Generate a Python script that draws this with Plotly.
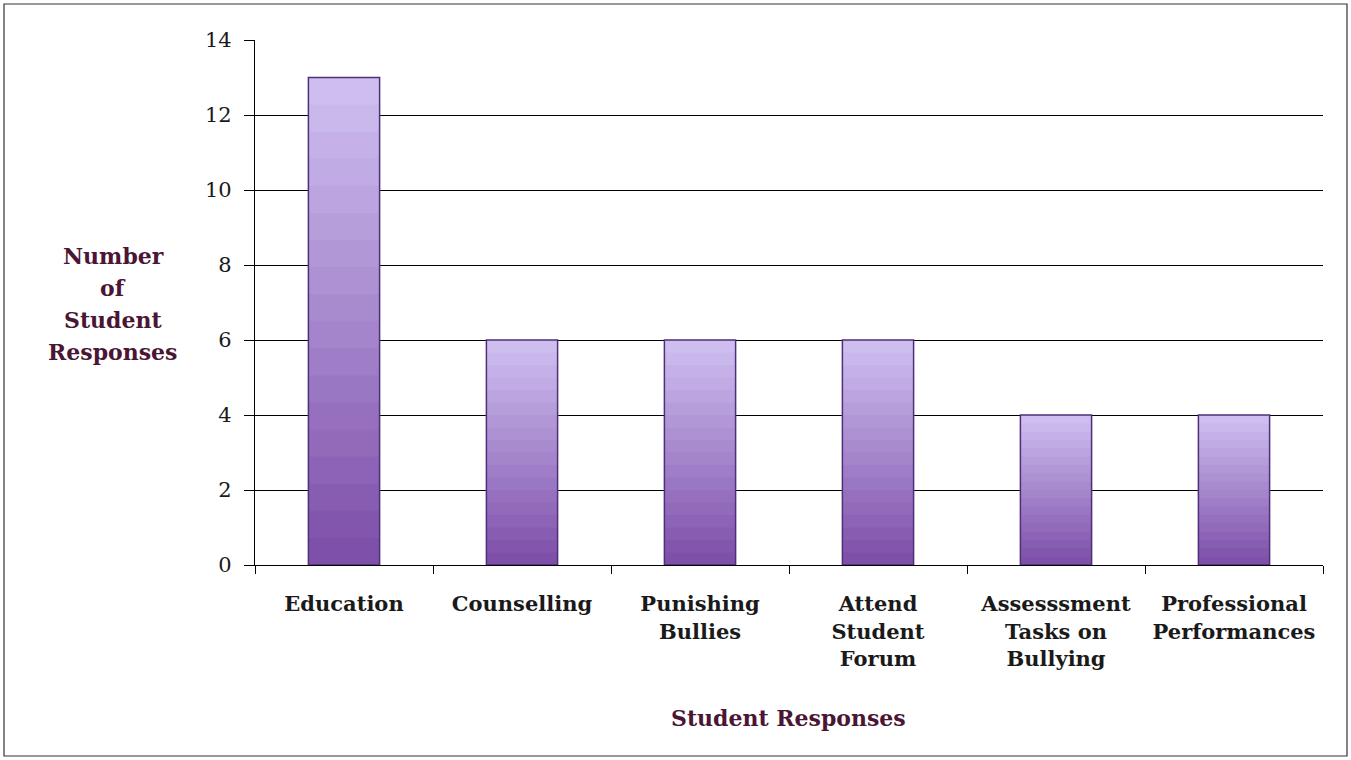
import plotly.graph_objects as go

categories = ["Education", "Counselling", "Punishing<br>Bullies", "Attend<br>Student<br>Forum",
              "Assesssment<br>Tasks on<br>Bullying", "Professional<br>Performances"]
values = [13, 6, 6, 6, 4, 4]
y_ticks = [0, 2, 4, 6, 8, 10, 12, 14]
y_title_lines = ["Number", "of", "Student", "Responses"]
x_title = "Student Responses"

SERIF = "DejaVu Serif, Liberation Serif, serif"
TITLE_COLOR = "#4a1634"

top_rgb = (206, 190, 240)
bot_rgb = (126, 80, 170)
N = 18

fig = go.Figure()
for k in range(N):
    t = k / (N - 1)
    c = tuple(round(top_rgb[i] + (bot_rgb[i] - top_rgb[i]) * t) for i in range(3))
    frac = (N - k) / N
    fig.add_trace(go.Bar(
        x=categories, y=[v * frac for v in values],
        marker=dict(color="rgb(%d,%d,%d)" % c, line=dict(width=0)),
        width=0.4, hoverinfo="skip", showlegend=False,
    ))
# outline
fig.add_trace(go.Bar(
    x=categories, y=values,
    marker=dict(color="rgba(0,0,0,0)", line=dict(color="#4f2f78", width=1.5)),
    width=0.4, hoverinfo="skip", showlegend=False,
))

W, H = 1351, 760
L, R, T = 255, 28, 40
ph = 525
pw = W - L - R
B = H - T - ph


def px_x(x):
    return (x - L) / pw


def px_y(y):
    return 1 - (y - T) / ph


annotations = []
for i, line in enumerate(y_title_lines):
    annotations.append(dict(
        text=line, xref="paper", yref="paper",
        x=px_x(113), y=px_y(256 + 32 * i), showarrow=False,
        font=dict(family=SERIF, size=22, color=TITLE_COLOR, weight="bold"),
        xanchor="center", yanchor="middle"))
annotations.append(dict(
    text=x_title, xref="paper", yref="paper",
    x=px_x(788), y=px_y(718), showarrow=False,
    font=dict(family=SERIF, size=22, color=TITLE_COLOR, weight="bold"),
    xanchor="center", yanchor="middle"))

fig.update_layout(
    width=W, height=H,
    barmode="overlay",
    plot_bgcolor="white", paper_bgcolor="white",
    margin=dict(l=L, r=R, t=T, b=B, autoexpand=False),
    font=dict(family=SERIF, color="black"),
    xaxis=dict(
        type="category",
        showline=True, linecolor="black", linewidth=1.2,
        ticks="outside", tickson="boundaries", ticklen=8, tickcolor="black",
        tickfont=dict(family=SERIF, size=21, color="#1a1a1a", weight="bold"),
        tickangle=0,
        showgrid=False,
        ticklabelstandoff=20,
    ),
    yaxis=dict(
        range=[0, 14], tickvals=y_ticks,
        showline=True, linecolor="black", linewidth=1.2,
        ticks="outside", ticklen=10, tickcolor="black",
        tickfont=dict(family=SERIF, size=21, color="#1a1a1a"),
        showgrid=True, gridcolor="black", gridwidth=1,
        zeroline=False,
        ticklabelstandoff=8,
    ),
    annotations=annotations,
    shapes=[
        dict(type="rect", xref="paper", yref="paper",
             x0=px_x(4), x1=px_x(1347),
             y0=px_y(756), y1=px_y(4),
             line=dict(color="#333333", width=1.2), fillcolor="rgba(0,0,0,0)", layer="below"),
    ],
)

fig.write_html("out.html", config={"displayModeBar": False},
               post_script="document.body.style.margin='0px';document.body.style.overflow='hidden';")
